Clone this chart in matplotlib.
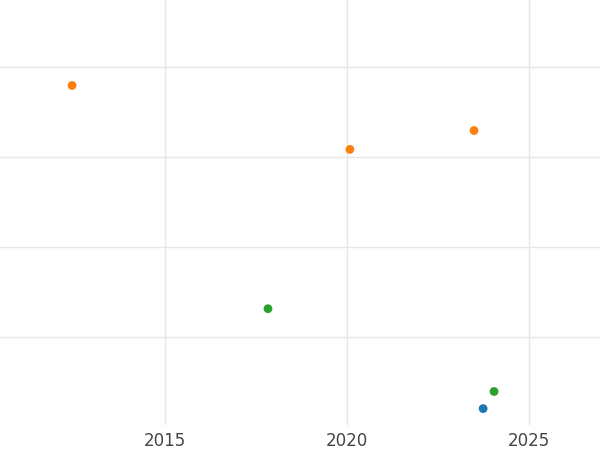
import matplotlib
matplotlib.use("Agg")
import matplotlib.pyplot as plt

# values (y in arbitrary units, gridline spacing = 1)
orange_x = [2012.45, 2020.08, 2023.49]
orange_y = [3.79, 3.08, 3.29]
green_x = [2017.83, 2024.04]
green_y = [1.31, 0.39]
blue_x = [2023.74]
blue_y = [0.20]
xticks = [2015, 2020, 2025]
yticks = [1, 2, 3, 4]

fig = plt.figure(figsize=(6, 4.5), dpi=100)
ax = fig.add_axes([0, 0.056, 1, 0.944])

ax.scatter(blue_x, blue_y, color="#1f77b4", s=40, zorder=3, edgecolors="none")
ax.scatter(orange_x, orange_y, color="#ff7f0e", s=40, zorder=3, edgecolors="none")
ax.scatter(green_x, green_y, color="#2ca02c", s=40, zorder=3, edgecolors="none")

ax.set_xlim(2010.47, 2026.95)
ax.set_ylim(0.02, 4.74)
ax.set_xticks(xticks)
ax.set_yticks(yticks)
ax.set_yticklabels([])
ax.grid(True, color="#e6e6e6", linewidth=1)
ax.set_axisbelow(True)
for s in ax.spines.values():
    s.set_visible(False)
ax.tick_params(length=0, labelsize=12, labelcolor="#444444", pad=5)

fig.savefig("out.png")
